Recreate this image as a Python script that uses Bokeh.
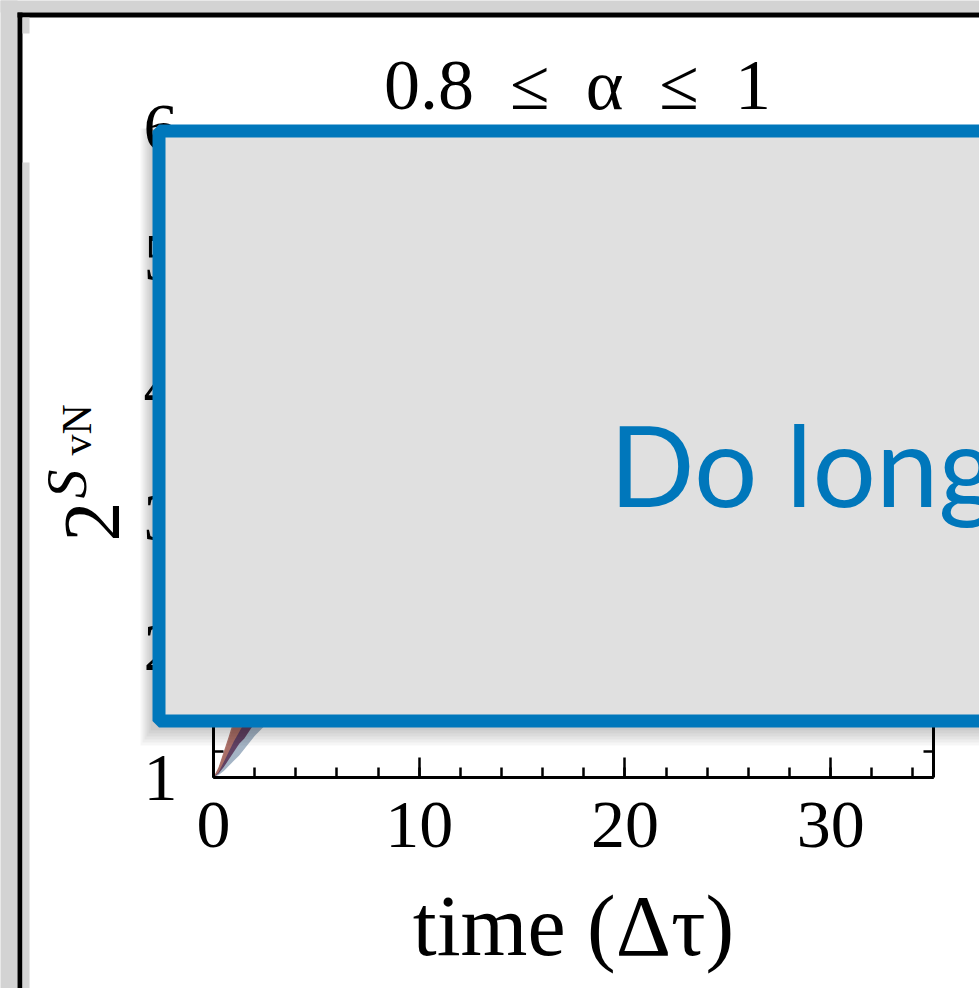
import math
from bokeh.plotting import figure
from bokeh.models import (Range1d, FixedTicker, LinearAxis, Label, BoxAnnotation,
                          CustomJSTickFormatter)
from bokeh.embed import file_html
from bokeh.resources import INLINE

# ---------------- data (hidden part estimated) ----------------
time = [0, 0.25, 0.5, 0.75, 1.0, 1.25, 1.5, 2.0, 2.5, 3.0, 4.0, 5.0, 6.0, 8.0, 10, 15, 20, 25, 30, 35]
red_hi = [1.0, 1.08, 1.20, 1.32, 1.45, 1.60, 1.75, 2.05, 2.35, 2.60, 3.05, 3.40, 3.65, 4.00, 4.20, 4.45, 4.55, 4.60, 4.62, 4.63]
red_lo = [1.0, 1.04, 1.12, 1.20, 1.28, 1.35, 1.42, 1.58, 1.74, 1.90, 2.20, 2.50, 2.75, 3.10, 3.40, 3.80, 4.00, 4.10, 4.15, 4.17]
purple_hi = [1.0, 1.07, 1.18, 1.29, 1.41, 1.55, 1.69, 1.98, 2.27, 2.52, 2.95, 3.30, 3.55, 3.90, 4.10, 4.35, 4.45, 4.50, 4.52, 4.53]
purple_lo = [1.0, 1.03, 1.08, 1.14, 1.20, 1.26, 1.30, 1.42, 1.54, 1.66, 1.90, 2.15, 2.35, 2.70, 3.00, 3.45, 3.70, 3.80, 3.85, 3.87]
grey_hi = [1.0, 1.06, 1.15, 1.25, 1.36, 1.48, 1.60, 1.85, 2.10, 2.35, 2.75, 3.10, 3.35, 3.70, 3.95, 4.25, 4.35, 4.40, 4.42, 4.43]
grey_lo = [1.0, 1.02, 1.05, 1.09, 1.13, 1.17, 1.22, 1.32, 1.40, 1.50, 1.70, 1.90, 2.10, 2.40, 2.70, 3.15, 3.40, 3.50, 3.55, 3.57]

x_major = [0, 10, 20, 30]
x_minor = [2 * i for i in range(18)]
y_major = [1, 2, 3, 4, 5, 6]
y_minor = [round(1 + 0.2 * i, 1) for i in range(26)]

title_text = "0.8\u2002\u2264\u2002\u03b1\u2002\u2264\u20021"
xlabel_text = "time (\u0394\u03c4)"
overlay_text = "Do long"

# ---------------- layout geometry (pixel <-> data) ----------------
W, H = 979, 988
FL, FR, FT, FB = 213, 933, 127, 777
X0, X1, Y0, Y1 = 0, 35, 1, 6


def dx(px):
    return X0 + (px - FL) / (FR - FL) * (X1 - X0)


def dy(py):
    return Y0 + (FB - py) / (FB - FT) * (Y1 - Y0)


SERIF = "Liberation Serif"
BLUE = "#0077bb"

p = figure(width=W, height=H, output_backend="svg", toolbar_location=None,
           x_range=Range1d(dx(0), dx(W)), y_range=Range1d(dy(H), dy(0)),
           x_axis_type=None, y_axis_type=None,
           min_border_left=0, min_border_right=0, min_border_top=0, min_border_bottom=0)
p.background_fill_color = "white"
p.border_fill_color = "white"
p.outline_line_color = None
p.xgrid.visible = False
p.ygrid.visible = False

# bands
p.varea(x=time, y1=grey_lo, y2=grey_hi, fill_color="#9fb0c2", fill_alpha=0.95)
p.varea(x=time, y1=purple_lo, y2=purple_hi, fill_color="#5e3c5e", fill_alpha=0.95)
p.varea(x=time, y1=red_lo, y2=red_hi, fill_color="#ad7167", fill_alpha=0.95)


def style_axis(ax, labels=True):
    ax.axis_line_width = 3
    ax.major_tick_in = 20
    ax.major_tick_out = 0
    ax.minor_tick_in = 10
    ax.minor_tick_out = 0
    ax.major_tick_line_width = 2.5
    ax.minor_tick_line_width = 2.5
    ax.major_label_text_font = SERIF
    ax.major_label_text_font_size = "68px"
    ax.major_label_text_color = "black"
    if not labels:
        ax.formatter = CustomJSTickFormatter(code="return ''")


xa = LinearAxis(ticker=FixedTicker(ticks=x_major, minor_ticks=x_minor),
                fixed_location=Y0, bounds=(X0, X1))
style_axis(xa)
xa.major_label_standoff = 25
xa.axis_label = xlabel_text
xa.axis_label_text_font = SERIF
xa.axis_label_text_font_style = "normal"
xa.axis_label_text_font_size = "86px"
xa.axis_label_text_color = "black"
xa.axis_label_standoff = 28
p.add_layout(xa, "below")

ta = LinearAxis(ticker=FixedTicker(ticks=x_major, minor_ticks=x_minor),
                fixed_location=Y1, bounds=(X0, X1))
style_axis(ta, labels=False)
p.add_layout(ta, "above")

ya = LinearAxis(ticker=FixedTicker(ticks=y_major, minor_ticks=y_minor),
                fixed_location=X0, bounds=(Y0, Y1))
style_axis(ya)
ya.major_label_standoff = 36
p.add_layout(ya, "left")

ra = LinearAxis(ticker=FixedTicker(ticks=y_major, minor_ticks=y_minor),
                fixed_location=X1, bounds=(Y0, Y1))
style_axis(ra, labels=False)
p.add_layout(ra, "right")

# y axis label 2^{S_vN}
p.add_layout(Label(x=dx(92), y=dy(541), text="2", angle=math.pi / 2,
                   text_font=SERIF, text_font_size="80px", text_color="black",
                   text_align="left", text_baseline="alphabetic"))
p.add_layout(Label(x=dx(66), y=dy(498), text="S", angle=math.pi / 2,
                   text_font=SERIF, text_font_style="italic", text_font_size="58px",
                   text_color="black", text_align="left", text_baseline="alphabetic"))
p.add_layout(Label(x=dx(76), y=dy(455), text="vN", angle=math.pi / 2,
                   text_font=SERIF, text_font_size="42px", text_color="black",
                   text_align="left", text_baseline="alphabetic"))

# title
p.add_layout(Label(x=dx(577), y=dy(84), text=title_text,
                   text_font=SERIF, text_font_size="72px", text_color="black",
                   text_align="center", text_baseline="alphabetic"))

# page chrome
FAR = 3000
p.add_layout(BoxAnnotation(left=dx(-FAR), right=dx(FAR), top=dy(-FAR), bottom=dy(12),
                           fill_color="#d3d3d3", fill_alpha=1, line_color=None))
p.add_layout(BoxAnnotation(left=dx(-FAR), right=dx(17), top=dy(-FAR), bottom=dy(FAR),
                           fill_color="#d3d3d3", fill_alpha=1, line_color=None))
p.add_layout(BoxAnnotation(left=dx(17), right=dx(22), top=dy(12), bottom=dy(FAR),
                           fill_color="black", fill_alpha=1, line_color=None))
p.add_layout(BoxAnnotation(left=dx(17), right=dx(FAR), top=dy(12), bottom=dy(17),
                           fill_color="black", fill_alpha=1, line_color=None))
p.add_layout(BoxAnnotation(left=dx(22), right=dx(29), top=dy(17), bottom=dy(33),
                           fill_color="#d6d6d6", fill_alpha=1, line_color=None))
p.add_layout(BoxAnnotation(left=dx(22), right=dx(29), top=dy(162), bottom=dy(FAR),
                           fill_color="#d6d6d6", fill_alpha=1, line_color=None))

# overlay shadow
for k in range(1, 7):
    p.add_layout(BoxAnnotation(left=dx(152 - 2 * k), right=dx(FAR), top=dy(128),
                               bottom=dy(727 + 3 * k), fill_color="black",
                               fill_alpha=0.035, line_color=None))

# overlay box
p.add_layout(BoxAnnotation(left=dx(158.5), right=dx(FAR), top=dy(130.5), bottom=dy(720.5),
                           fill_color="#e0e0e0", fill_alpha=1,
                           line_color=BLUE, line_width=13, line_alpha=1))
p.add_layout(Label(x=dx(609), y=dy(463), text=overlay_text,
                   text_font="Lato", text_font_size="112px", text_color=BLUE,
                   text_align="left", text_baseline="alphabetic"))

open("out.html", "w").write(file_html(p, INLINE))
